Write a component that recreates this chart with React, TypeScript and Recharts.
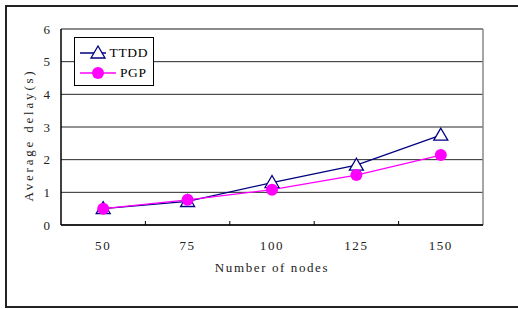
import { CartesianGrid, Legend, Line, LineChart, ReferenceLine, XAxis, YAxis } from "recharts"

// values
const nodes = [50, 75, 100, 125, 150]
const ttdd = [0.5, 0.72, 1.3, 1.83, 2.75]
const pgp = [0.5, 0.77, 1.08, 1.53, 2.14]
const yTicks = [0, 1, 2, 3, 4, 5, 6]
const xTicks = [37.5, 50, 62.5, 75, 87.5, 100, 112.5, 125, 137.5, 150, 162.5]
const seriesOrder = ["ttdd", "pgp"]

const data = nodes.map((n, i) => ({ n, ttdd: ttdd[i], pgp: pgp[i] }))

const FONT = "'Liberation Serif', serif"
const SPACING = 1.6
const NAVY = "#000080"
const PINK = "#ff00ff"

const Triangle = (props: any) => {
  const { cx, cy, index } = props
  if (cx == null || cy == null) return <g key={index} />
  return (
    <polygon
      key={index}
      points={`${cx},${cy - 7} ${cx - 7},${cy + 5} ${cx + 7},${cy + 5}`}
      fill="#fff"
      stroke={NAVY}
      strokeWidth={1.3}
    />
  )
}

const XTick = (props: any) => {
  const { x, y, payload } = props
  const v = payload.value
  if (v % 25 === 0) {
    return (
      <text x={x} y={y + 25} textAnchor="middle" fontFamily={FONT} fontSize={13} letterSpacing={SPACING} fill="#222">
        {v}
      </text>
    )
  }
  if (v > 40 && v < 160) return <line x1={x} y1={y} x2={x} y2={y - 4} stroke="#000" />
  return <g />
}

const LegendBox = (props: any) => {
  const items = [...(props.payload || [])].sort(
    (a: any, b: any) => seriesOrder.indexOf(a.dataKey) - seriesOrder.indexOf(b.dataKey)
  )
  return (
    <div
      style={{
        border: "1px solid #000",
        background: "#fff",
        padding: "5px 5px 2px 5px",
        width: 68,
        fontFamily: FONT,
        fontSize: 13.5,
        letterSpacing: 0.6,
        color: "#000",
        lineHeight: "20px",
      }}
    >
      {items.map((it: any) => (
        <div key={it.dataKey} style={{ display: "flex", alignItems: "center", height: 20 }}>
          <svg width={36} height={20} style={{ marginRight: 4 }}>
            <line x1={0} y1={10} x2={36} y2={10} stroke={it.color} strokeWidth={1.3} />
            {it.dataKey === "ttdd" ? (
              <polygon points="18,3 11,15 25,15" fill="#fff" stroke={NAVY} strokeWidth={1.3} />
            ) : (
              <circle cx={18} cy={10} r={6} fill={PINK} />
            )}
          </svg>
          <span>{it.value}</span>
        </div>
      ))}
    </div>
  )
}

export default function App() {
  return (
    <div style={{ position: "absolute", left: 0, top: 0, width: 518, height: 309, background: "#fff" }}>
      <div
        style={{
          position: "absolute",
          left: 5,
          top: 5,
          width: 520,
          height: 299,
          borderTop: "2px solid #222",
          borderLeft: "2px solid #222",
          borderBottom: "2px solid #222",
        }}
      />
      <LineChart
        width={518}
        height={309}
        data={data}
        margin={{ top: 29, right: 35, left: 5, bottom: 24 }}
        style={{ position: "absolute", left: 0, top: 0 }}
      >
        <CartesianGrid vertical={false} stroke="#000" strokeOpacity={0.85} />
        <ReferenceLine y={6} stroke="#888" strokeWidth={1.5} />
        <ReferenceLine x={162.5} stroke="#888" strokeWidth={1.5} />
        <XAxis
          dataKey="n"
          type="number"
          domain={[37.5, 162.5]}
          ticks={xTicks}
          interval={0}
          height={60}
          tickSize={0}
          tickMargin={0}
          tickLine={false}
          tick={<XTick />}
          axisLine={{ stroke: "#000", strokeWidth: 1.5 }}
          label={{
            value: "Number of nodes",
            position: "insideBottom",
            offset: 13,
            fontFamily: FONT,
            fontSize: 13,
            letterSpacing: SPACING,
            fill: "#222",
          }}
        />
        <YAxis
          domain={[0, 6]}
          ticks={yTicks}
          interval={0}
          width={56}
          tickSize={0}
          tickMargin={11}
          tickLine={false}
          axisLine={{ stroke: "#000", strokeWidth: 1.5 }}
          tick={{ fontFamily: FONT, fontSize: 13, fill: "#222" }}
          label={{
            value: "Average delay(s)",
            angle: -90,
            position: "center",
            dx: -5,
            dy: 8,
            fontFamily: FONT,
            fontSize: 13,
            letterSpacing: 2.8,
            fill: "#222",
          }}
        />
        <Legend
          layout="vertical"
          align="center"
          verticalAlign="middle"
          content={<LegendBox />}
          wrapperStyle={{ position: "absolute", left: 74, top: 37, width: 80 }}
        />
        <Line
          dataKey="ttdd"
          name="TTDD"
          stroke={NAVY}
          strokeWidth={1.3}
          dot={<Triangle />}
          activeDot={false}
          isAnimationActive={false}
        />
        <Line
          dataKey="pgp"
          name="PGP"
          stroke={PINK}
          strokeWidth={1.3}
          dot={{ r: 6, fill: PINK, stroke: PINK, strokeWidth: 0 }}
          activeDot={false}
          isAnimationActive={false}
        />
      </LineChart>
    </div>
  )
}
